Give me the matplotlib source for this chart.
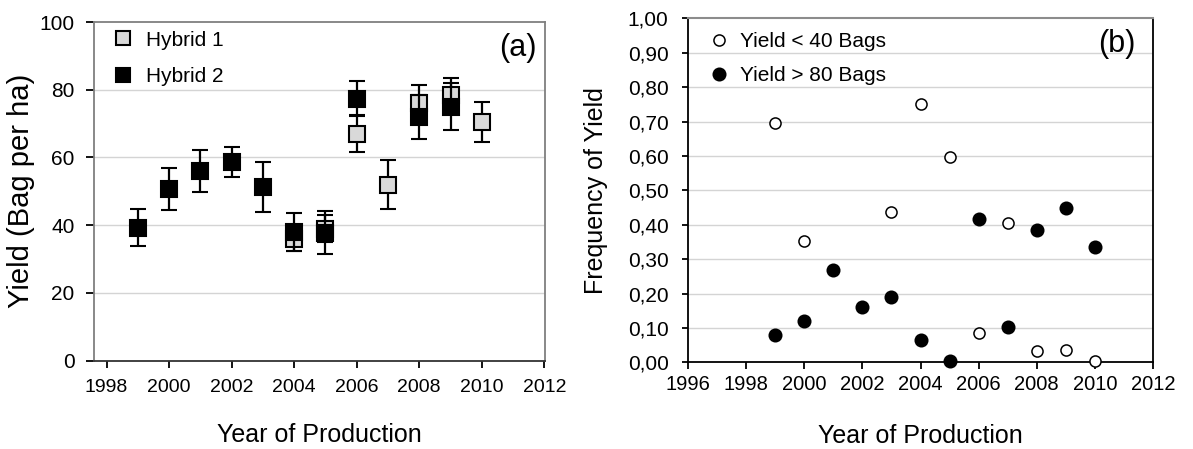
import matplotlib
matplotlib.use("Agg")
import matplotlib.pyplot as plt
from matplotlib.lines import Line2D

plt.rcParams['font.family'] = ['Liberation Sans', 'DejaVu Sans']

# panel (a): mean yield with error bars
h1_years = [2004, 2005, 2006, 2007, 2008, 2009, 2010]
h1_yield = [36, 39, 67, 52, 76, 78.5, 70.5]
h1_err = [3.5, 4, 5.5, 7.3, 5.5, 5, 5.8]

h2_years = [1999, 2000, 2001, 2002, 2003, 2004, 2005, 2006, 2008, 2009]
h2_yield = [39.2, 50.6, 56, 58.6, 51.2, 38, 37.8, 77.4, 72, 75]
h2_err = [5.5, 6.2, 6.2, 4.5, 7.3, 5.6, 6.3, 5.2, 6.5, 7]

yield_ticks = [0, 20, 40, 60, 80, 100]
year_ticks_a = [1998, 2000, 2002, 2004, 2006, 2008, 2010, 2012]

# panel (b): frequency of low / high yield
freq_years = [1999, 2000, 2001, 2002, 2003, 2004, 2005, 2006, 2007, 2008, 2009, 2010]
low_years = [1999, 2000, 2003, 2004, 2005, 2006, 2007, 2008, 2009, 2010]
low_freq = [0.695, 0.354, 0.436, 0.752, 0.598, 0.084, 0.404, 0.032, 0.036, 0.004]
high_freq = [0.079, 0.121, 0.269, 0.160, 0.189, 0.064, 0.004, 0.417, 0.104, 0.385, 0.450, 0.336]

freq_ticks = [0.0, 0.1, 0.2, 0.3, 0.4, 0.5, 0.6, 0.7, 0.8, 0.9, 1.0]
freq_labels = ['0,00', '0,10', '0,20', '0,30', '0,40', '0,50', '0,60', '0,70', '0,80', '0,90', '1,00']
year_ticks_b = [1996, 1998, 2000, 2002, 2004, 2006, 2008, 2010, 2012]

fig = plt.figure(figsize=(11.93, 4.49), dpi=100)
ax1 = fig.add_axes([0.0788, 0.197, 0.378, 0.754])
ax2 = fig.add_axes([0.5767, 0.1931, 0.3898, 0.766])

grey = '#d9d9d9'
gridc = '#d4d4d4'

# ---- panel (a)
for v in yield_ticks[1:-1]:
    ax1.axhline(v, color=gridc, lw=1, zorder=0)
ax1.errorbar(h1_years, h1_yield, yerr=h1_err, fmt='s', ms=12, mfc=grey, mec='black',
             mew=1.5, ecolor='black', elinewidth=1.6, capsize=6, capthick=1.6, zorder=3)
ax1.errorbar(h2_years, h2_yield, yerr=h2_err, fmt='s', ms=12, mfc='black', mec='black',
             mew=1.5, ecolor='black', elinewidth=1.6, capsize=6, capthick=1.6, zorder=4)
ax1.set_xlim(1997.6, 2012.02)
ax1.set_ylim(0, 100)
ax1.set_xticks(year_ticks_a)
ax1.set_yticks(yield_ticks)
ax1.tick_params(axis='x', direction='out', length=5, width=1.3, pad=8, labelsize=14)
ax1.tick_params(axis='y', direction='out', length=6, width=1.3, pad=8, labelsize=15)
for s in ['top', 'right', 'left']:
    ax1.spines[s].set_color('#7f7f7f')
    ax1.spines[s].set_linewidth(1.3)
ax1.spines['bottom'].set_color('#333333')
ax1.spines['bottom'].set_linewidth(1.3)
ax1.set_ylabel('Yield (Bag per ha)', fontsize=21)
ax1.yaxis.set_label_coords(-0.131, 0.5)
ax1.set_xlabel('Year of Production', fontsize=18)
ax1.xaxis.set_label_coords(0.5, -0.185)
ax1.text(0.94, 0.923, '(a)', transform=ax1.transAxes, fontsize=22, ha='center', va='center')
hand_a = [Line2D([], [], marker='s', ls='none', ms=10, mfc=grey, mec='black', mew=1.5),
          Line2D([], [], marker='s', ls='none', ms=10, mfc='black', mec='black', mew=1.5)]
ax1.legend(hand_a, ['Hybrid 1', 'Hybrid 2'], loc='upper left', bbox_to_anchor=(0.0, 1.03),
           frameon=False, fontsize=15, handlelength=1.0, handletextpad=0.6, labelspacing=0.85,
           borderpad=0.4)

# ---- panel (b)
for v in freq_ticks[1:-1]:
    ax2.axhline(v, color=gridc, lw=1, zorder=0)
ax2.plot(low_years, low_freq, 'o', ms=8, mfc='white', mec='black', mew=1.1, zorder=3,
         clip_on=False)
ax2.plot(freq_years, high_freq, 'o', ms=9, mfc='black', mec='black', mew=1.1, zorder=4,
         clip_on=False)
ax2.set_xlim(1996, 2012)
ax2.set_ylim(0, 1.0)
ax2.set_xticks(year_ticks_b)
ax2.set_yticks(freq_ticks)
ax2.set_yticklabels(freq_labels)
ax2.tick_params(axis='x', direction='out', length=5, width=1.3, pad=4, labelsize=14.5)
ax2.tick_params(axis='y', direction='out', length=4, width=1.3, pad=10, labelsize=15)
for s in ['left', 'bottom', 'right']:
    ax2.spines[s].set_color('black')
    ax2.spines[s].set_linewidth(1.3)
ax2.spines['top'].set_color('#8c8c8c')
ax2.spines['top'].set_linewidth(1.5)
ax2.set_ylabel('Frequency of Yield', fontsize=18)
ax2.yaxis.set_label_coords(-0.172, 0.5)
ax2.set_xlabel('Year of Production', fontsize=18)
ax2.xaxis.set_label_coords(0.5, -0.179)
ax2.text(0.923, 0.925, '(b)', transform=ax2.transAxes, fontsize=22, ha='center', va='center')
hand_b = [Line2D([], [], marker='o', ls='none', ms=8, mfc='white', mec='black', mew=1.1),
          Line2D([], [], marker='o', ls='none', ms=9, mfc='black', mec='black', mew=1.1)]
ax2.legend(hand_b, ['Yield < 40 Bags', 'Yield > 80 Bags'], loc='upper left',
           bbox_to_anchor=(0.0, 1.02), frameon=False, fontsize=15, handlelength=1.0,
           handletextpad=0.5, labelspacing=0.7, borderpad=0.5)

fig.savefig('out.png', dpi=100)
